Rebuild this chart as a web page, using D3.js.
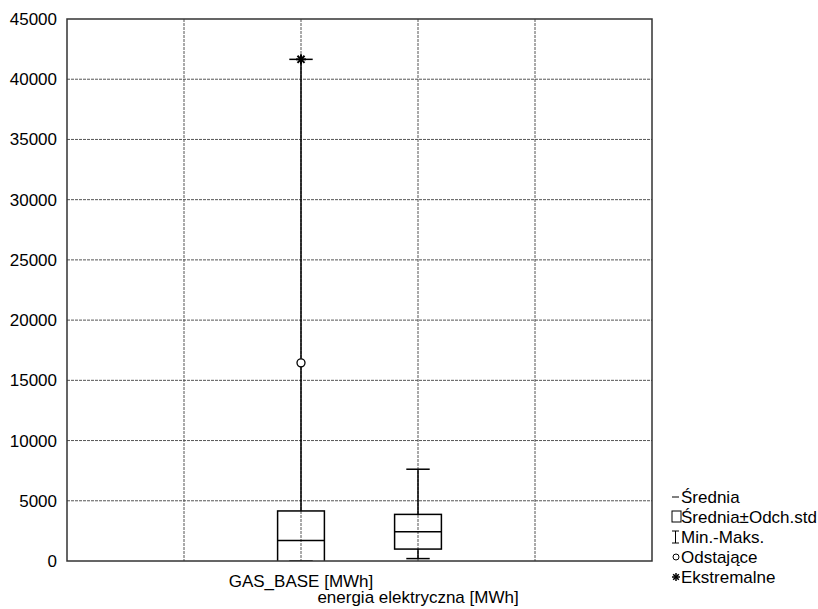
<!DOCTYPE html>
<html>
<head>
<meta charset="utf-8">
<script src="https://cdn.jsdelivr.net/npm/d3@7"></script>
<style>
  body { margin: 0; background: #fff; }
  text { font-family: "Liberation Sans", Arial, sans-serif; fill: #000; }
</style>
</head>
<body>
<svg id="chart" width="818" height="609"></svg>
<script>
// --- data ---
const categories = ["GAS_BASE [MWh]", "energia elektryczna [MWh]"];
const means = [1700, 2430];
const stdDevs = [2455, 1440];
const mins = [0, 200];
const maxs = [41650, 7620];
const outliers = [[16450], []];
const extremes = [[41650], []];
const yTicks = [0, 5000, 10000, 15000, 20000, 25000, 30000, 35000, 40000, 45000];
const legendItems = ["Średnia", "Średnia±Odch.std", "Min.-Maks.", "Odstające", "Ekstremalne"];

const svg = d3.select("#chart");
const margin = { left: 67, right: 166, top: 19, bottom: 48 };
const width = 818 - margin.left - margin.right;
const height = 609 - margin.top - margin.bottom;

// categories sit on the 2nd and 3rd of four inner grid lines
const x = d3.scaleLinear().domain([0, 5]).range([0, width]);
const y = d3.scaleLinear().domain([0, 45000]).range([height, 0]);
const pos = i => x(i + 2);

const g = svg.append("g").attr("transform", `translate(${margin.left},${margin.top})`);

svg.append("defs").append("clipPath").attr("id", "plotclip")
  .append("rect").attr("width", width).attr("height", height);

// grid
g.append("g").selectAll("line").data(yTicks.slice(1, -1)).enter().append("line")
  .attr("x1", 0).attr("x2", width)
  .attr("y1", d => y(d)).attr("y2", d => y(d))
  .attr("stroke", "#555").attr("stroke-dasharray", "3,1");
g.append("g").selectAll("line").data([1, 2, 3, 4]).enter().append("line")
  .attr("x1", d => x(d)).attr("x2", d => x(d))
  .attr("y1", 0).attr("y2", height)
  .attr("stroke", "#555").attr("stroke-dasharray", "3,1");

// y axis labels
const yAxis = d3.axisLeft(y).tickValues(yTicks).tickSize(0).tickPadding(10).tickFormat(d3.format("d"));
g.append("g").call(yAxis)
  .call(a => a.select(".domain").remove())
  .selectAll("text")
  .style("font-size", "17px")
  .attr("font-family", null);

// boxes
const plot = g.append("g").attr("clip-path", "url(#plotclip)");
const boxW = x(0.4) - x(0);
const capW = x(0.2) - x(0);

categories.forEach((c, i) => {
  const cx = pos(i);
  const lo = means[i] - stdDevs[i];
  const hi = means[i] + stdDevs[i];
  // whiskers
  plot.append("line").attr("x1", cx).attr("x2", cx)
    .attr("y1", y(hi)).attr("y2", y(maxs[i])).attr("stroke", "#000").attr("stroke-width", 1.5);
  plot.append("line").attr("x1", cx).attr("x2", cx)
    .attr("y1", y(lo)).attr("y2", y(mins[i])).attr("stroke", "#000").attr("stroke-width", 1.5);
  [mins[i], maxs[i]].forEach(v => {
    plot.append("line").attr("x1", cx - capW / 2).attr("x2", cx + capW / 2)
      .attr("y1", y(v)).attr("y2", y(v)).attr("stroke", "#000").attr("stroke-width", 1.5);
  });
  // box
  plot.append("rect")
    .attr("x", cx - boxW / 2).attr("width", boxW)
    .attr("y", y(hi)).attr("height", y(lo) - y(hi))
    .attr("fill", "none").attr("stroke", "#000").attr("stroke-width", 1.5);
  plot.append("line").attr("x1", cx - boxW / 2).attr("x2", cx + boxW / 2)
    .attr("y1", y(means[i])).attr("y2", y(means[i])).attr("stroke", "#000").attr("stroke-width", 1.5);
  // outliers
  outliers[i].forEach(v => {
    plot.append("circle").attr("cx", cx).attr("cy", y(v)).attr("r", 4)
      .attr("fill", "#fff").attr("stroke", "#000").attr("stroke-width", 1.3);
  });
  // extremes
  extremes[i].forEach(v => {
    const s = plot.append("g").attr("transform", `translate(${cx},${y(v)})`);
    [0, 45, 90, 135].forEach(a => {
      s.append("line").attr("x1", -5).attr("x2", 5).attr("y1", 0).attr("y2", 0)
        .attr("transform", `rotate(${a})`).attr("stroke", "#000").attr("stroke-width", 2);
    });
  });
});

// frame
g.append("rect").attr("width", width).attr("height", height)
  .attr("fill", "none").attr("stroke", "#333").attr("stroke-width", 1.5);

// x labels (staggered)
g.append("g").selectAll("text").data(categories).enter().append("text")
  .attr("x", (d, i) => pos(i))
  .attr("y", (d, i) => height + 26 + i * 16)
  .attr("text-anchor", "middle")
  .style("font-size", "17px")
  .text(d => d);

// legend
const lg = svg.append("g").attr("transform", "translate(675,497)");
const rowH = 20;
const item = lg.selectAll("g").data(legendItems).enter().append("g")
  .attr("transform", (d, i) => `translate(0,${i * rowH})`);
item.append("text").attr("x", 6).attr("dy", "0.35em").style("font-size", "17px").text(d => d);

const sym = i => d3.select(item.nodes()[i]);
sym(0).append("line").attr("x1", -3).attr("x2", 4).attr("stroke", "#000");
sym(1).append("rect").attr("x", -3).attr("y", -6).attr("width", 9).attr("height", 11)
  .attr("fill", "none").attr("stroke", "#000");
sym(2).call(s => {
  s.append("line").attr("x1", -3).attr("x2", 4).attr("y1", -6).attr("y2", -6).attr("stroke", "#000");
  s.append("line").attr("x1", -3).attr("x2", 4).attr("y1", 6).attr("y2", 6).attr("stroke", "#000");
  s.append("line").attr("x1", 0.5).attr("x2", 0.5).attr("y1", -6).attr("y2", 6).attr("stroke", "#000");
});
sym(3).append("circle").attr("cx", 1).attr("r", 3).attr("fill", "#fff").attr("stroke", "#000");
sym(4).append("g").attr("transform", "translate(1,0)").call(s => {
  [0, 45, 90, 135].forEach(a => {
    s.append("line").attr("x1", -4).attr("x2", 4).attr("transform", `rotate(${a})`)
      .attr("stroke", "#000").attr("stroke-width", 1.5);
  });
});
</script>
</body>
</html>
